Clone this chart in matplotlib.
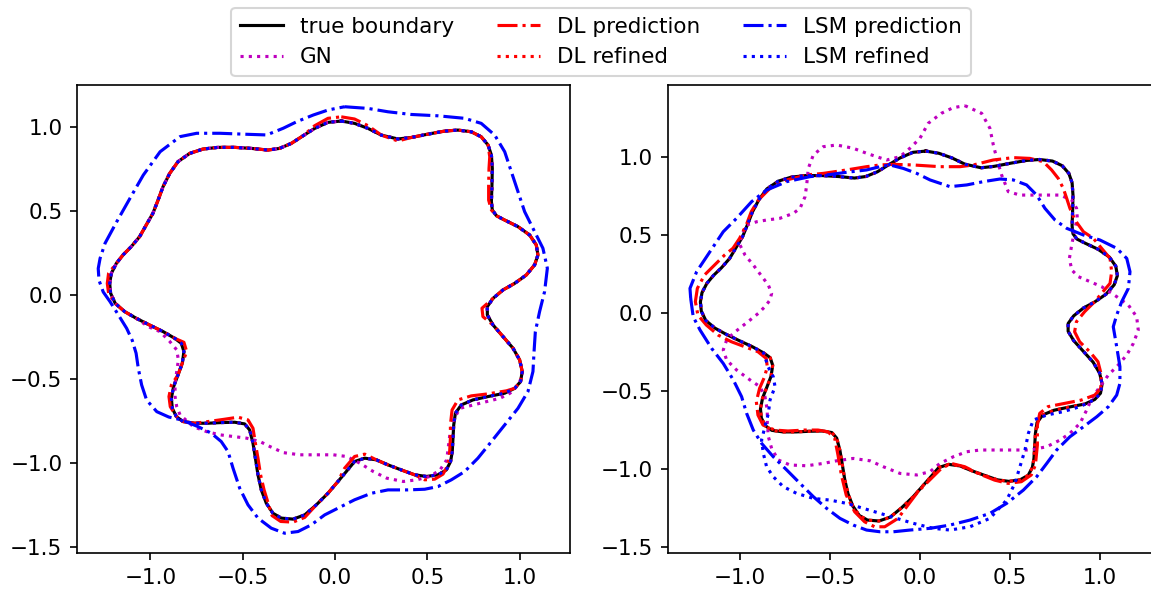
import matplotlib.pyplot as plt

# true boundary (same shape in both panels)
true_x = [0.034, 0.106, 0.179, 0.251, 0.341, 0.413, 0.504, 0.594, 0.666, 0.738,
          0.792, 0.829, 0.847, 0.852, 0.850, 0.847, 0.852, 0.874, 0.919, 0.991,
          1.054, 1.090, 1.099, 1.081, 1.036, 0.973, 0.910, 0.856, 0.825, 0.825,
          0.856, 0.910, 0.964, 1.000, 1.014, 1.005, 0.973, 0.919, 0.829, 0.747,
          0.684, 0.652, 0.643, 0.639, 0.635, 0.626, 0.603, 0.558, 0.495, 0.431,
          0.359, 0.287, 0.224, 0.161, 0.106, 0.061, 0.016, -0.038, -0.101, -0.164,
          -0.227, -0.291, -0.336, -0.372, -0.399, -0.417, -0.431, -0.444, -0.462, -0.489,
          -0.543, -0.616, -0.688, -0.760, -0.823, -0.859, -0.881, -0.886, -0.874, -0.850,
          -0.827, -0.818, -0.832, -0.868, -0.931, -1.004, -1.076, -1.139, -1.190, -1.215,
          -1.220, -1.211, -1.184, -1.148, -1.103, -1.058, -1.022, -0.986, -0.958, -0.931,
          -0.895, -0.850, -0.787, -0.715, -0.634, -0.543, -0.453, -0.363, -0.300, -0.236,
          -0.173, -0.110, -0.038]
true_y = [1.038, 1.024, 0.994, 0.954, 0.931, 0.940, 0.960, 0.978, 0.984, 0.974,
          0.944, 0.895, 0.835, 0.756, 0.657, 0.558, 0.508, 0.474, 0.448, 0.409,
          0.359, 0.300, 0.240, 0.181, 0.121, 0.071, 0.032, -0.018, -0.067, -0.117,
          -0.177, -0.246, -0.315, -0.385, -0.454, -0.514, -0.554, -0.583, -0.603, -0.623,
          -0.653, -0.702, -0.772, -0.851, -0.931, -0.990, -1.040, -1.069, -1.079, -1.069,
          -1.040, -1.010, -0.980, -0.970, -0.990, -1.050, -1.109, -1.179, -1.248, -1.308,
          -1.333, -1.327, -1.298, -1.238, -1.159, -1.069, -0.970, -0.881, -0.802, -0.766,
          -0.756, -0.758, -0.762, -0.762, -0.752, -0.722, -0.673, -0.613, -0.544, -0.474,
          -0.405, -0.335, -0.286, -0.256, -0.216, -0.177, -0.137, -0.097, -0.048, 0.012,
          0.071, 0.131, 0.190, 0.240, 0.290, 0.349, 0.419, 0.488, 0.567, 0.647,
          0.726, 0.796, 0.845, 0.871, 0.881, 0.881, 0.875, 0.865, 0.875, 0.905,
          0.950, 0.994, 1.030]

# ---- left panel ----
# GN: follows the true boundary except along the bottom
gn_left_dev_x = [1.011, 0.993, 0.948, 0.894, 0.821, 0.749, 0.677, 0.641, 0.623, 0.614,
                 0.605, 0.569, 0.514, 0.442, 0.370, 0.280, 0.208, 0.135, 0.063, -0.009,
                 -0.081, -0.190, -0.280, -0.352, -0.406, -0.478, -0.551, -0.623, -0.695, -0.767,
                 -0.839, -0.857, -0.866, -0.866, -0.857, -0.848, -0.857, -0.894, -0.948, -1.011]
gn_left_dev_y = [-0.484, -0.534, -0.583, -0.613, -0.633, -0.653, -0.673, -0.742, -0.821, -0.901,
                 -0.980, -1.040, -1.079, -1.099, -1.109, -1.089, -1.050, -1.000, -0.960, -0.950,
                 -0.950, -0.950, -0.937, -0.901, -0.871, -0.851, -0.841, -0.831, -0.812, -0.782,
                 -0.712, -0.663, -0.603, -0.524, -0.454, -0.385, -0.325, -0.276, -0.216, -0.187]

dl_left_x = [0.034, 0.106, 0.179, 0.251, 0.341, 0.413, 0.504, 0.594, 0.666, 0.738,
             0.792, 0.829, 0.838, 0.834, 0.832, 0.832, 0.847, 0.874, 0.919, 0.991,
             1.054, 1.090, 1.099, 1.081, 1.036, 0.973, 0.910, 0.856, 0.796, 0.801,
             0.856, 0.910, 0.964, 1.000, 1.014, 1.005, 0.973, 0.928, 0.829, 0.738,
             0.666, 0.634, 0.625, 0.625, 0.621, 0.612, 0.585, 0.540, 0.486, 0.431,
             0.359, 0.287, 0.224, 0.161, 0.106, 0.052, 0.016, -0.038, -0.101, -0.164,
             -0.227, -0.294, -0.341, -0.359, -0.384, -0.403, -0.417, -0.431, -0.444, -0.471,
             -0.525, -0.597, -0.688, -0.760, -0.823, -0.859, -0.892, -0.899, -0.886, -0.850,
             -0.827, -0.803, -0.818, -0.868, -0.931, -1.004, -1.076, -1.139, -1.190, -1.226,
             -1.233, -1.226, -1.184, -1.148, -1.103, -1.058, -1.022, -0.986, -0.958, -0.931,
             -0.895, -0.850, -0.787, -0.715, -0.634, -0.543, -0.453, -0.363, -0.300, -0.236,
             -0.173, -0.110, -0.038]
dl_left_y = [1.063, 1.050, 1.010, 0.954, 0.919, 0.940, 0.960, 0.978, 0.984, 0.974,
             0.944, 0.895, 0.825, 0.756, 0.657, 0.567, 0.508, 0.474, 0.448, 0.409,
             0.359, 0.300, 0.240, 0.181, 0.121, 0.071, 0.032, -0.018, -0.077, -0.127,
             -0.177, -0.246, -0.315, -0.385, -0.454, -0.514, -0.554, -0.569, -0.587, -0.599,
             -0.623, -0.683, -0.772, -0.851, -0.931, -1.010, -1.065, -1.095, -1.099, -1.069,
             -1.040, -1.010, -0.980, -0.946, -0.960, -1.030, -1.109, -1.179, -1.248, -1.323,
             -1.351, -1.347, -1.312, -1.248, -1.159, -1.069, -0.970, -0.881, -0.792, -0.742,
             -0.726, -0.738, -0.752, -0.762, -0.752, -0.722, -0.663, -0.603, -0.534, -0.474,
             -0.405, -0.335, -0.280, -0.256, -0.216, -0.177, -0.137, -0.097, -0.048, 0.012,
             0.071, 0.131, 0.190, 0.240, 0.290, 0.349, 0.419, 0.488, 0.567, 0.647,
             0.726, 0.796, 0.845, 0.871, 0.881, 0.881, 0.875, 0.865, 0.875, 0.905,
             0.950, 1.010, 1.054]

lsm_left_x = [0.052, 0.179, 0.287, 0.413, 0.558, 0.702, 0.792, 0.865, 0.919, 0.955,
              0.991, 1.027, 1.081, 1.126, 1.150, 1.135, 1.108, 1.085, 1.078, 1.072,
              1.045, 0.991, 0.919, 0.847, 0.774, 0.702, 0.630, 0.558, 0.486, 0.395,
              0.287, 0.197, 0.106, 0.034, -0.056, -0.128, -0.200, -0.273, -0.345, -0.417,
              -0.471, -0.516, -0.552, -0.579, -0.616, -0.670, -0.742, -0.832, -0.900, -0.965,
              -1.020, -1.047, -1.065, -1.077, -1.098, -1.128, -1.173, -1.218, -1.255, -1.278,
              -1.282, -1.272, -1.245, -1.182, -1.110, -1.038, -0.947, -0.839, -0.749, -0.623,
              -0.478, -0.370, -0.280, -0.207, -0.117, -0.036]
lsm_left_y = [1.123, 1.113, 1.093, 1.077, 1.069, 1.054, 1.024, 0.954, 0.855, 0.736,
              0.617, 0.498, 0.379, 0.280, 0.161, 0.022, -0.097, -0.216, -0.335, -0.454,
              -0.573, -0.673, -0.772, -0.871, -0.970, -1.050, -1.099, -1.139, -1.155, -1.159,
              -1.159, -1.179, -1.218, -1.258, -1.308, -1.367, -1.407, -1.417, -1.387, -1.327,
              -1.248, -1.149, -1.030, -0.931, -0.871, -0.821, -0.782, -0.742, -0.725, -0.693,
              -0.624, -0.534, -0.435, -0.345, -0.268, -0.197, -0.117, -0.038, 0.020, 0.090,
              0.160, 0.220, 0.310, 0.438, 0.578, 0.716, 0.855, 0.945, 0.965, 0.965,
              0.959, 0.955, 0.995, 1.034, 1.074, 1.104]

# ---- right panel ----
gn_right_x = [0.251, 0.344, 0.390, 0.409, 0.428, 0.455, 0.492, 0.557, 0.631, 0.706,
              0.780, 0.845, 0.872, 0.876, 0.863, 0.845, 0.832, 0.845, 0.882, 0.947,
              1.011, 1.095, 1.160, 1.206, 1.215, 1.188, 1.151, 1.104, 1.049, 1.002,
              0.956, 0.928, 0.891, 0.835, 0.780, 0.706, 0.613, 0.520, 0.428, 0.335,
              0.261, 0.187, 0.112, 0.057, -0.017, -0.110, -0.203, -0.277, -0.370, -0.462,
              -0.537, -0.629, -0.722, -0.787, -0.824, -0.842, -0.848, -0.848, -0.861, -0.889,
              -0.944, -1.019, -1.074, -1.093, -1.074, -1.037, -0.991, -0.944, -0.898, -0.861,
              -0.833, -0.824, -0.842, -0.870, -0.926, -0.972, -1.000, -0.991, -0.963, -0.907,
              -0.852, -0.778, -0.703, -0.666, -0.638, -0.629, -0.620, -0.592, -0.537, -0.462,
              -0.370, -0.296, -0.240, -0.184, -0.110, -0.055, 0.001, 0.047, 0.120, 0.185]
gn_right_y = [1.329, 1.280, 1.184, 1.077, 0.991, 0.885, 0.778, 0.756, 0.756, 0.756,
              0.756, 0.724, 0.671, 0.607, 0.543, 0.436, 0.350, 0.276, 0.233, 0.201,
              0.169, 0.105, 0.051, -0.024, -0.109, -0.194, -0.269, -0.333, -0.397, -0.472,
              -0.547, -0.622, -0.707, -0.771, -0.814, -0.857, -0.878, -0.878, -0.878, -0.878,
              -0.889, -0.921, -0.964, -1.017, -1.038, -1.028, -0.985, -0.947, -0.932, -0.947,
              -0.964, -0.979, -0.974, -0.942, -0.868, -0.793, -0.707, -0.622, -0.536, -0.472,
              -0.429, -0.365, -0.301, -0.237, -0.173, -0.130, -0.088, -0.045, -0.002, 0.041,
              0.083, 0.126, 0.179, 0.222, 0.308, 0.372, 0.436, 0.500, 0.564, 0.585,
              0.596, 0.607, 0.639, 0.671, 0.746, 0.821, 0.927, 1.013, 1.066, 1.077,
              1.056, 1.024, 1.002, 0.981, 1.002, 1.056, 1.120, 1.216, 1.280, 1.316]

dl_right_x = [-0.898, -0.833, -0.740, -0.629, -0.537, -0.407, -0.296, -0.221, -0.147, -0.036,
              0.112, 0.224, 0.298, 0.409, 0.520, 0.613, 0.687, 0.733, 0.770, 0.798,
              0.817, 0.835, 0.863, 0.910, 0.965, 1.011, 1.058, 1.067, 1.058, 1.011,
              0.973, 0.917, 0.871, 0.861, 0.889, 0.945, 0.991, 1.010, 1.006, 0.973,
              0.898, 0.806, 0.713, 0.667, 0.654, 0.654, 0.643, 0.620, 0.565, 0.491,
              0.416, 0.324, 0.250, 0.175, 0.120, 0.064, -0.010, -0.066, -0.121, -0.195,
              -0.251, -0.307, -0.362, -0.409, -0.436, -0.455, -0.473, -0.511, -0.566, -0.640,
              -0.733, -0.807, -0.872, -0.900, -0.909, -0.891, -0.863, -0.848, -0.854, -0.900,
              -0.974, -1.048, -1.122, -1.187, -1.234, -1.248, -1.237, -1.197, -1.141, -1.085,
              -1.039, -1.002, -0.965, -0.937]
dl_right_y = [0.724, 0.799, 0.853, 0.885, 0.895, 0.917, 0.938, 0.949, 0.953, 0.949,
              0.938, 0.938, 0.949, 0.981, 0.996, 0.991, 0.970, 0.917, 0.863, 0.799,
              0.735, 0.671, 0.596, 0.521, 0.479, 0.415, 0.350, 0.265, 0.190, 0.126,
              0.073, 0.009, -0.056, -0.120, -0.184, -0.248, -0.312, -0.397, -0.483, -0.526,
              -0.558, -0.579, -0.600, -0.643, -0.718, -0.846, -0.974, -1.038, -1.081, -1.092,
              -1.071, -1.028, -0.985, -0.964, -0.996, -1.060, -1.145, -1.231, -1.316, -1.370,
              -1.370, -1.338, -1.274, -1.167, -1.038, -0.910, -0.803, -0.761, -0.750, -0.750,
              -0.756, -0.750, -0.718, -0.654, -0.568, -0.483, -0.408, -0.344, -0.291, -0.248,
              -0.216, -0.184, -0.141, -0.077, -0.013, 0.073, 0.158, 0.244, 0.308, 0.372,
              0.415, 0.479, 0.564, 0.650]

lsm_right_x = [-1.274, -1.278, -1.241, -1.167, -1.093, -1.019, -0.935, -0.852, -0.740, -0.611,
               -0.518, -0.407, -0.296, -0.221, -0.166, -0.092, -0.017, 0.057, 0.168, 0.261,
               0.353, 0.446, 0.520, 0.594, 0.650, 0.696, 0.752, 0.817, 0.910, 1.002,
               1.095, 1.151, 1.169, 1.160, 1.123, 1.095, 1.076, 1.095, 1.113, 1.113,
               1.095, 1.049, 0.984, 0.910, 0.835, 0.761, 0.706, 0.650, 0.576, 0.483,
               0.390, 0.279, 0.168, 0.057, -0.055, -0.147, -0.221, -0.296, -0.370, -0.444,
               -0.518, -0.592, -0.666, -0.740, -0.815, -0.880, -0.926, -0.963, -0.991, -1.037,
               -1.093, -1.158, -1.222, -1.260]
lsm_right_y = [0.094, 0.158, 0.265, 0.393, 0.521, 0.607, 0.714, 0.788, 0.842, 0.874,
               0.885, 0.902, 0.917, 0.938, 0.949, 0.927, 0.895, 0.853, 0.810, 0.821,
               0.842, 0.859, 0.853, 0.821, 0.756, 0.671, 0.596, 0.543, 0.500, 0.468,
               0.415, 0.350, 0.265, 0.158, 0.073, -0.013, -0.088, -0.216, -0.344, -0.451,
               -0.526, -0.600, -0.665, -0.729, -0.793, -0.878, -0.964, -1.049, -1.135, -1.220,
               -1.284, -1.327, -1.359, -1.380, -1.391, -1.402, -1.402, -1.391, -1.359, -1.316,
               -1.252, -1.177, -1.092, -1.006, -0.921, -0.835, -0.750, -0.643, -0.536, -0.429,
               -0.323, -0.226, -0.109, -0.024]

# LSM refined: on the true boundary except across the bottom
lsm_ref_right_dev_x = [0.891, 0.798, 0.706, 0.631, 0.604, 0.585, 0.557, 0.529, 0.483, 0.390,
                       0.279, 0.168, 0.075, -0.036, -0.129, -0.221, -0.314, -0.407, -0.499, -0.592,
                       -0.685, -0.759, -0.815, -0.852, -0.870, -0.880, -0.861, -0.842, -0.833, -0.805,
                       -0.815, -0.844]
lsm_ref_right_dev_y = [-0.600, -0.632, -0.654, -0.686, -0.771, -0.878, -0.985, -1.092, -1.199, -1.316,
                       -1.370, -1.391, -1.380, -1.348, -1.316, -1.284, -1.252, -1.220, -1.199, -1.188,
                       -1.156, -1.113, -1.049, -0.985, -0.900, -0.814, -0.729, -0.643, -0.558, -0.472,
                       -0.408, -0.344]


def closed(a):
    return list(a) + [a[0]]


gn_left_x = true_x[:35] + gn_left_dev_x + true_x[86:]
gn_left_y = true_y[:35] + gn_left_dev_y + true_y[86:]
lsm_ref_right_x = true_x[:37] + lsm_ref_right_dev_x + true_x[83:]
lsm_ref_right_y = true_y[:37] + lsm_ref_right_dev_y + true_y[83:]

plt.rcParams['font.size'] = 10.3

fig = plt.figure(figsize=(1151 / 150, 589 / 150), dpi=150)
ax1 = fig.add_axes([77 / 1151, 35.7 / 589, 492.7 / 1151, 468.3 / 589])
ax2 = fig.add_axes([667.5 / 1151, 35.7 / 589, 492.7 / 1151, 468.3 / 589])

# left
ax1.plot(closed(true_x), closed(true_y), 'k-', label='true boundary')
ax1.plot(closed(gn_left_x), closed(gn_left_y), 'm:', label='GN')
ax1.plot(closed(dl_left_x), closed(dl_left_y), 'r-.', label='DL prediction')
ax1.plot(closed(true_x), closed(true_y), 'r:', label='DL refined')
ax1.plot(closed(lsm_left_x), closed(lsm_left_y), 'b-.', label='LSM prediction')
ax1.plot(closed(true_x), closed(true_y), 'b:', label='LSM refined')
ax1.set_xlim(-1.397, 1.271)
ax1.set_ylim(-1.5366, 1.2525)

# right
ax2.plot(closed(true_x), closed(true_y), 'k-')
ax2.plot(closed(gn_right_x), closed(gn_right_y), 'm:')
ax2.plot(closed(dl_right_x), closed(dl_right_y), 'r-.')
ax2.plot(closed(true_x), closed(true_y), 'r:')
ax2.plot(closed(lsm_right_x), closed(lsm_right_y), 'b-.')
ax2.plot(closed(lsm_ref_right_x), closed(lsm_ref_right_y), 'b:')
ax2.set_xlim(-1.403, 1.337)
ax2.set_ylim(-1.540, 1.4615)

handles, labels = ax1.get_legend_handles_labels()
fig.legend(handles, labels, loc='upper center', ncol=3, borderaxespad=0,
           bbox_to_anchor=(601 / 1151, 1 - 8 / 589))

fig.savefig('out.png', dpi=150)
